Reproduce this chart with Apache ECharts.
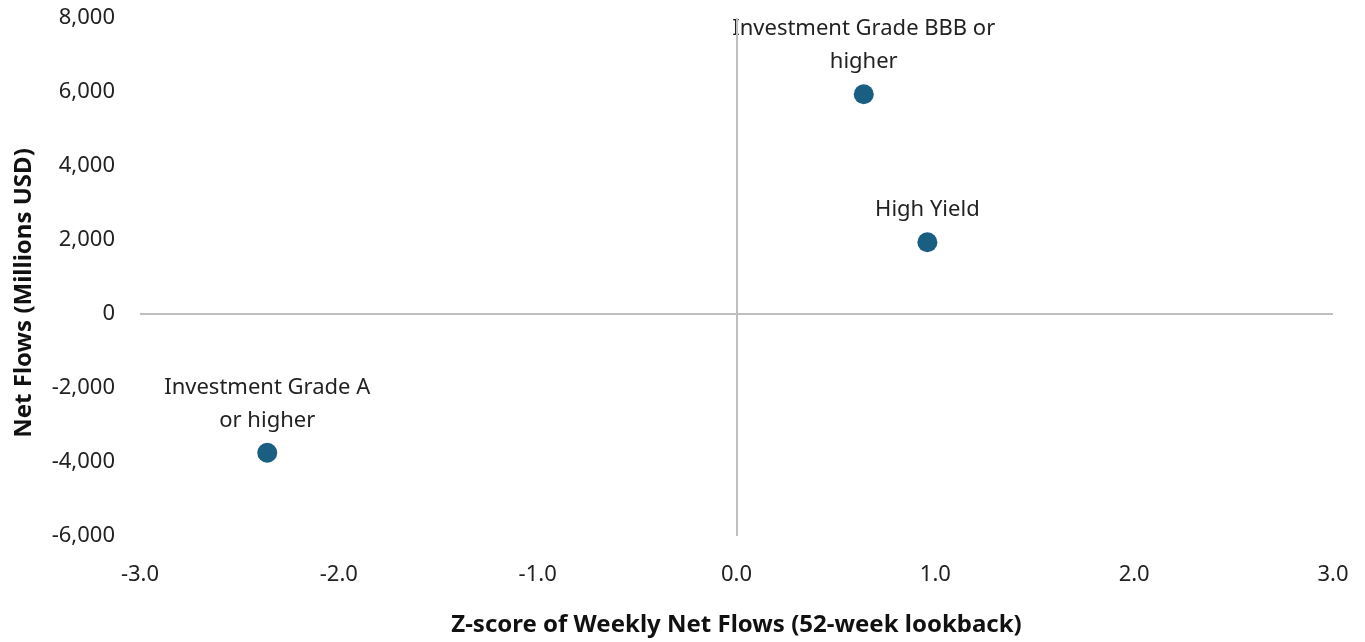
<!DOCTYPE html>
<html>
<head>
<meta charset="utf-8">
<script src="https://cdn.jsdelivr.net/npm/echarts@6/dist/echarts.min.js"></script>
<style>
  html, body { margin: 0; padding: 0; background: #fff; }
  #chart { width: 1365px; height: 642px; }
</style>
</head>
<body>
<div id="chart"></div>
<script>
// Sectors, z-score (x) and net flows in millions USD (y)
const names = ['Investment Grade BBB or\nhigher', 'High Yield', 'Investment Grade A\nor higher'];
const zScores = [0.64, 0.96, -2.36];
const netFlows = [5940, 1940, -3750];

const FONT = '"Noto Sans", sans-serif';

const chart = echarts.init(document.getElementById('chart'));

const option = {
  animation: false,
  textStyle: { fontFamily: FONT },
  grid: { left: 140, right: 32, top: 18, bottom: 105 },
  xAxis: {
    type: 'value',
    min: -3,
    max: 3,
    interval: 1,
    name: 'Z-score of Weekly Net Flows (52-week lookback)',
    nameLocation: 'middle',
    nameGap: 77,
    nameTextStyle: { fontFamily: FONT, fontWeight: 'bold', fontSize: 24, color: '#111' },
    axisLine: { show: false },
    axisTick: { show: false },
    splitLine: { show: false },
    axisLabel: {
      margin: 28,
      fontSize: 22,
      color: '#222',
      formatter: v => v.toFixed(1)
    }
  },
  yAxis: {
    type: 'value',
    min: -6000,
    max: 8000,
    interval: 2000,
    name: 'Net Flows (Millions USD)',
    nameLocation: 'middle',
    nameGap: 104,
    nameTextStyle: {
      fontFamily: FONT, fontWeight: 'bold', fontSize: 24, color: '#111',
      padding: [0, 32, 0, 0]
    },
    axisLine: { show: false },
    axisTick: { show: false },
    splitLine: { show: false },
    axisLabel: {
      margin: 25,
      fontSize: 22,
      color: '#222',
      formatter: v => v.toLocaleString('en-US')
    }
  },
  series: [
    {
      type: 'scatter',
      symbolSize: 20,
      itemStyle: { color: '#1a5e82', opacity: 1 },
      data: zScores.map((x, i) => ({ value: [x, netFlows[i]], name: names[i] })),
      label: {
        show: true,
        position: 'top',
        distance: 6,
        formatter: p => p.name,
        fontSize: 22,
        lineHeight: 33,
        color: '#222',
        align: 'center'
      },
      markLine: {
        silent: true,
        symbol: 'none',
        label: { show: false },
        lineStyle: { color: '#bfbfbf', width: 2, type: 'solid' },
        data: [{ xAxis: 0 }, { yAxis: 0 }]
      }
    }
  ]
};

chart.setOption(option);
window.addEventListener('resize', () => chart.resize());
</script>
</body>
</html>
